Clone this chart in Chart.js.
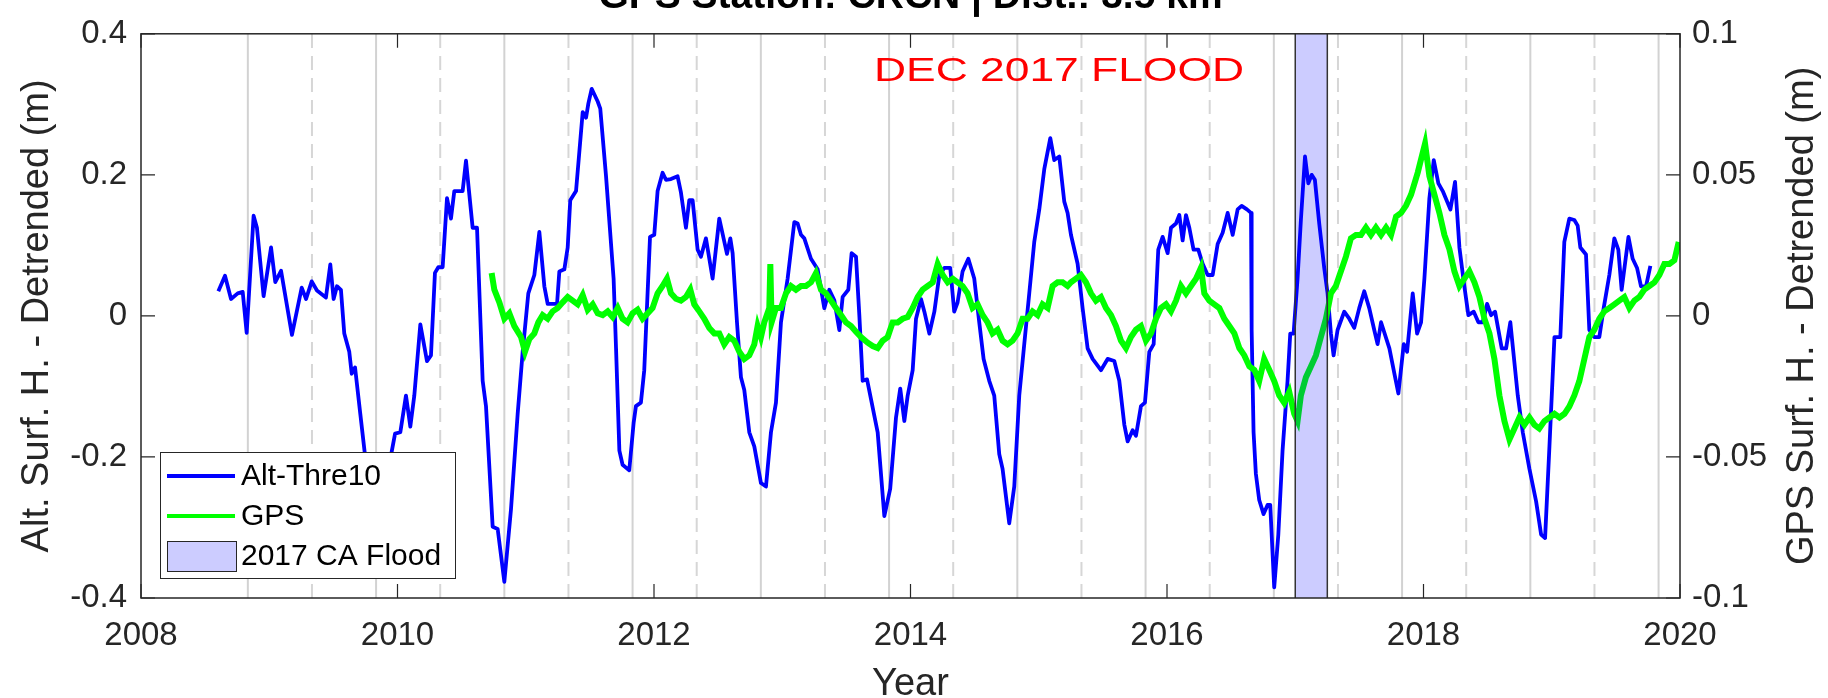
<!DOCTYPE html>
<html>
<head>
<meta charset="utf-8">
<script src="https://cdn.jsdelivr.net/npm/chart.js@4.4.0/dist/chart.umd.js"></script>
<style>
    html, body { margin: 0; padding: 0; background: #fff; }
</style>
</head>
<body>
<canvas id="gps-chart" width="1828" height="698"></canvas>
<script>
// Altimetry surface height (Alt-Thre10), [decimal year, detrended m]
const altSeries = [
    [2008.603, 0.035], [2008.655, 0.057], [2008.702, 0.024], [2008.754, 0.032], [2008.793, 0.034],
    [2008.824, -0.024], [2008.878, 0.142], [2008.904, 0.125], [2008.956, 0.028], [2009.014, 0.097],
    [2009.047, 0.048], [2009.092, 0.064], [2009.177, -0.027], [2009.253, 0.040], [2009.287, 0.024],
    [2009.331, 0.049], [2009.372, 0.036], [2009.442, 0.026], [2009.476, 0.073], [2009.502, 0.024],
    [2009.528, 0.042], [2009.559, 0.037], [2009.585, -0.025], [2009.624, -0.051], [2009.643, -0.082],
    [2009.669, -0.073], [2009.710, -0.139], [2009.747, -0.198], [2009.806, -0.263], [2009.871, -0.237],
    [2009.949, -0.198], [2009.981, -0.167], [2010.022, -0.165], [2010.066, -0.113], [2010.100, -0.157],
    [2010.131, -0.113], [2010.178, -0.012], [2010.230, -0.064], [2010.261, -0.056], [2010.292, 0.061],
    [2010.318, 0.069], [2010.352, 0.069], [2010.386, 0.167], [2010.417, 0.138], [2010.443, 0.177],
    [2010.469, 0.177], [2010.508, 0.177], [2010.534, 0.220], [2010.586, 0.125], [2010.620, 0.125],
    [2010.664, -0.092], [2010.690, -0.128], [2010.742, -0.299], [2010.781, -0.302], [2010.833, -0.377],
    [2010.885, -0.274], [2010.937, -0.139], [2010.976, -0.051], [2011.020, 0.032], [2011.067, 0.058],
    [2011.106, 0.119], [2011.145, 0.042], [2011.171, 0.017], [2011.244, 0.017], [2011.262, 0.063],
    [2011.301, 0.066], [2011.327, 0.097], [2011.347, 0.164], [2011.392, 0.177], [2011.444, 0.289],
    [2011.470, 0.281], [2011.488, 0.301], [2011.514, 0.322], [2011.561, 0.304], [2011.581, 0.294],
    [2011.626, 0.198], [2011.685, 0.053], [2011.704, -0.046], [2011.730, -0.191], [2011.755, -0.211],
    [2011.807, -0.219], [2011.841, -0.152], [2011.859, -0.128], [2011.898, -0.123], [2011.924, -0.077],
    [2011.969, 0.112], [2012.002, 0.115], [2012.028, 0.177], [2012.067, 0.203], [2012.093, 0.193],
    [2012.132, 0.194], [2012.184, 0.198], [2012.210, 0.175], [2012.249, 0.125], [2012.275, 0.164],
    [2012.301, 0.164], [2012.340, 0.094], [2012.366, 0.084], [2012.405, 0.110], [2012.457, 0.053],
    [2012.509, 0.138], [2012.569, 0.088], [2012.595, 0.110], [2012.613, 0.089], [2012.647, -0.009],
    [2012.678, -0.087], [2012.704, -0.105], [2012.743, -0.165], [2012.782, -0.185], [2012.834, -0.237],
    [2012.873, -0.242], [2012.912, -0.165], [2012.951, -0.123], [2012.990, -0.009], [2013.042, 0.053],
    [2013.094, 0.133], [2013.120, 0.131], [2013.146, 0.115], [2013.172, 0.110], [2013.224, 0.081],
    [2013.276, 0.066], [2013.328, 0.011], [2013.367, 0.037], [2013.406, 0.022], [2013.445, -0.020],
    [2013.471, 0.027], [2013.515, 0.037], [2013.541, 0.089], [2013.575, 0.084], [2013.601, 0.001],
    [2013.627, -0.092], [2013.661, -0.090], [2013.692, -0.118], [2013.744, -0.165], [2013.796, -0.284],
    [2013.842, -0.245], [2013.887, -0.144], [2013.920, -0.103], [2013.952, -0.149], [2013.978, -0.113],
    [2014.017, -0.077], [2014.043, -0.004], [2014.082, 0.024], [2014.108, 0.006], [2014.147, -0.025],
    [2014.186, 0.006], [2014.225, 0.058], [2014.264, 0.068], [2014.310, 0.068], [2014.341, 0.006],
    [2014.367, 0.019], [2014.406, 0.063], [2014.451, 0.081], [2014.497, 0.053], [2014.536, -0.009],
    [2014.570, -0.061], [2014.614, -0.092], [2014.653, -0.113], [2014.692, -0.196], [2014.718, -0.217],
    [2014.770, -0.294], [2014.809, -0.242], [2014.848, -0.113], [2014.887, -0.040], [2014.926, 0.032],
    [2014.965, 0.105], [2015.004, 0.151], [2015.043, 0.208], [2015.090, 0.252], [2015.121, 0.221],
    [2015.160, 0.226], [2015.199, 0.162], [2015.225, 0.146], [2015.251, 0.115], [2015.303, 0.074],
    [2015.342, 0.011], [2015.381, -0.046], [2015.420, -0.061], [2015.485, -0.077], [2015.537, -0.061],
    [2015.589, -0.064], [2015.628, -0.092], [2015.667, -0.154], [2015.693, -0.178], [2015.732, -0.162],
    [2015.758, -0.170], [2015.797, -0.128], [2015.828, -0.123], [2015.862, -0.051], [2015.896, -0.040],
    [2015.932, 0.094], [2015.966, 0.112], [2016.005, 0.089], [2016.031, 0.125], [2016.070, 0.131],
    [2016.096, 0.143], [2016.122, 0.107], [2016.148, 0.143], [2016.174, 0.125], [2016.207, 0.094],
    [2016.244, 0.094], [2016.278, 0.074], [2016.317, 0.058], [2016.356, 0.058], [2016.395, 0.102],
    [2016.434, 0.118], [2016.473, 0.146], [2016.512, 0.115], [2016.551, 0.151], [2016.582, 0.156],
    [2016.623, 0.151], [2016.655, 0.146], [2016.660, -0.020], [2016.675, -0.165], [2016.693, -0.224],
    [2016.719, -0.261], [2016.753, -0.281], [2016.784, -0.268], [2016.805, -0.268], [2016.836, -0.385],
    [2016.868, -0.310], [2016.901, -0.191], [2016.940, -0.092], [2016.961, -0.025], [2016.987, -0.025],
    [2017.018, 0.053], [2017.044, 0.136], [2017.076, 0.226], [2017.102, 0.188], [2017.128, 0.200],
    [2017.153, 0.193], [2017.187, 0.131], [2017.226, 0.068], [2017.252, 0.032], [2017.278, -0.025],
    [2017.299, -0.056], [2017.330, -0.020], [2017.382, 0.006], [2017.421, -0.004], [2017.460, -0.017],
    [2017.499, 0.011], [2017.538, 0.035], [2017.577, 0.011], [2017.616, -0.020], [2017.642, -0.040],
    [2017.669, -0.009], [2017.734, -0.046], [2017.773, -0.082], [2017.804, -0.110], [2017.846, -0.040],
    [2017.872, -0.051], [2017.916, 0.032], [2017.950, -0.025], [2017.981, -0.009], [2018.007, 0.053],
    [2018.046, 0.167], [2018.080, 0.221], [2018.116, 0.188], [2018.150, 0.177], [2018.210, 0.151],
    [2018.246, 0.190], [2018.280, 0.097], [2018.314, 0.048], [2018.350, 0.001], [2018.392, 0.006],
    [2018.428, -0.009], [2018.462, -0.009], [2018.496, 0.017], [2018.527, 0.001], [2018.558, 0.006],
    [2018.610, -0.046], [2018.644, -0.046], [2018.677, -0.009], [2018.735, -0.113], [2018.774, -0.165],
    [2018.826, -0.217], [2018.878, -0.263], [2018.917, -0.310], [2018.948, -0.315], [2018.982, -0.185],
    [2019.021, -0.030], [2019.067, -0.030], [2019.098, 0.105], [2019.137, 0.138], [2019.176, 0.136],
    [2019.202, 0.128], [2019.223, 0.097], [2019.267, 0.087], [2019.293, -0.020], [2019.332, -0.030],
    [2019.371, -0.030], [2019.405, 0.011], [2019.449, 0.058], [2019.488, 0.110], [2019.519, 0.094],
    [2019.545, 0.037], [2019.598, 0.112], [2019.631, 0.081], [2019.665, 0.068], [2019.696, 0.042],
    [2019.735, 0.042], [2019.769, 0.071]
];

// GPS surface height, [decimal year, detrended m] (right axis)
const gpsSeries = [
    [2010.734, 0.0152], [2010.755, 0.0093], [2010.794, 0.0048], [2010.833, -0.0010], [2010.872, 0.0009],
    [2010.911, -0.0036], [2010.963, -0.0075], [2010.994, -0.0127], [2011.028, -0.0082], [2011.067, -0.0062],
    [2011.098, -0.0023], [2011.132, 0.0003], [2011.171, -0.0010], [2011.210, 0.0016], [2011.249, 0.0028],
    [2011.288, 0.0048], [2011.327, 0.0067], [2011.366, 0.0054], [2011.405, 0.0041], [2011.444, 0.0074],
    [2011.483, 0.0022], [2011.522, 0.0041], [2011.561, 0.0009], [2011.600, 0.0003], [2011.639, 0.0016],
    [2011.678, -0.0004], [2011.717, 0.0028], [2011.755, -0.0010], [2011.794, -0.0023], [2011.833, 0.0009],
    [2011.872, 0.0022], [2011.911, -0.0010], [2011.950, 0.0009], [2011.989, 0.0028], [2012.028, 0.0080],
    [2012.067, 0.0106], [2012.101, 0.0132], [2012.132, 0.0080], [2012.171, 0.0061], [2012.210, 0.0054],
    [2012.249, 0.0067], [2012.283, 0.0093], [2012.314, 0.0041], [2012.353, 0.0016], [2012.392, -0.0010],
    [2012.431, -0.0043], [2012.470, -0.0062], [2012.509, -0.0062], [2012.548, -0.0101], [2012.587, -0.0075],
    [2012.626, -0.0088], [2012.665, -0.0127], [2012.704, -0.0153], [2012.743, -0.0140], [2012.782, -0.0101],
    [2012.808, -0.0036], [2012.834, -0.0075], [2012.860, -0.0023], [2012.899, 0.0028], [2012.907, 0.0184],
    [2012.917, -0.0023], [2012.951, 0.0028], [2012.990, 0.0028], [2013.029, 0.0080], [2013.068, 0.0106],
    [2013.107, 0.0093], [2013.146, 0.0106], [2013.185, 0.0106], [2013.224, 0.0119], [2013.263, 0.0152],
    [2013.302, 0.0093], [2013.341, 0.0080], [2013.380, 0.0054], [2013.419, 0.0028], [2013.458, 0.0003],
    [2013.497, -0.0023], [2013.536, -0.0036], [2013.575, -0.0056], [2013.614, -0.0075], [2013.666, -0.0095],
    [2013.705, -0.0107], [2013.744, -0.0114], [2013.783, -0.0088], [2013.822, -0.0075], [2013.861, -0.0023],
    [2013.900, -0.0023], [2013.939, -0.0010], [2013.978, -0.0004], [2014.017, 0.0028], [2014.056, 0.0067],
    [2014.095, 0.0093], [2014.134, 0.0106], [2014.173, 0.0119], [2014.212, 0.0184], [2014.251, 0.0145],
    [2014.290, 0.0119], [2014.329, 0.0132], [2014.367, 0.0119], [2014.406, 0.0106], [2014.445, 0.0080],
    [2014.484, 0.0028], [2014.523, 0.0041], [2014.562, 0.0003], [2014.601, -0.0023], [2014.640, -0.0062],
    [2014.679, -0.0049], [2014.718, -0.0088], [2014.757, -0.0101], [2014.796, -0.0088], [2014.835, -0.0062],
    [2014.874, -0.0010], [2014.913, -0.0010], [2014.952, 0.0016], [2014.991, 0.0003], [2015.030, 0.0041],
    [2015.069, 0.0028], [2015.108, 0.0106], [2015.147, 0.0119], [2015.186, 0.0119], [2015.225, 0.0106],
    [2015.251, 0.0119], [2015.290, 0.0132], [2015.329, 0.0145], [2015.368, 0.0119], [2015.407, 0.0080],
    [2015.446, 0.0054], [2015.485, 0.0067], [2015.524, 0.0028], [2015.563, 0.0003], [2015.602, -0.0036],
    [2015.641, -0.0088], [2015.680, -0.0114], [2015.719, -0.0075], [2015.758, -0.0049], [2015.797, -0.0036],
    [2015.836, -0.0088], [2015.875, -0.0062], [2015.914, -0.0010], [2015.953, 0.0028], [2015.992, 0.0041],
    [2016.031, 0.0016], [2016.070, 0.0054], [2016.109, 0.0106], [2016.148, 0.0080], [2016.187, 0.0106],
    [2016.226, 0.0132], [2016.265, 0.0171], [2016.291, 0.0080], [2016.330, 0.0054], [2016.369, 0.0041],
    [2016.408, 0.0028], [2016.447, -0.0010], [2016.486, -0.0036], [2016.525, -0.0062], [2016.564, -0.0114],
    [2016.603, -0.0140], [2016.642, -0.0179], [2016.681, -0.0192], [2016.719, -0.0231], [2016.758, -0.0153],
    [2016.798, -0.0192], [2016.836, -0.0231], [2016.875, -0.0282], [2016.914, -0.0308], [2016.953, -0.0269],
    [2016.992, -0.0347], [2017.018, -0.0373], [2017.044, -0.0282], [2017.083, -0.0218], [2017.122, -0.0179],
    [2017.161, -0.0140], [2017.200, -0.0075], [2017.239, -0.0010], [2017.278, 0.0080], [2017.317, 0.0106],
    [2017.356, 0.0158], [2017.395, 0.0210], [2017.434, 0.0275], [2017.473, 0.0287], [2017.512, 0.0287],
    [2017.551, 0.0313], [2017.590, 0.0287], [2017.629, 0.0313], [2017.669, 0.0287], [2017.708, 0.0313],
    [2017.747, 0.0287], [2017.786, 0.0352], [2017.825, 0.0365], [2017.864, 0.0391], [2017.903, 0.0430],
    [2017.955, 0.0508], [2018.012, 0.0611], [2018.046, 0.0495], [2018.085, 0.0430], [2018.124, 0.0365],
    [2018.163, 0.0287], [2018.202, 0.0236], [2018.241, 0.0158], [2018.280, 0.0106], [2018.319, 0.0132],
    [2018.358, 0.0158], [2018.397, 0.0119], [2018.436, 0.0067], [2018.475, -0.0010], [2018.514, -0.0062],
    [2018.553, -0.0153], [2018.592, -0.0282], [2018.631, -0.0373], [2018.670, -0.0438], [2018.709, -0.0399],
    [2018.748, -0.0360], [2018.787, -0.0386], [2018.826, -0.0360], [2018.865, -0.0386], [2018.903, -0.0399],
    [2018.943, -0.0373], [2018.982, -0.0360], [2019.021, -0.0347], [2019.060, -0.0360], [2019.099, -0.0347],
    [2019.137, -0.0321], [2019.176, -0.0282], [2019.215, -0.0231], [2019.254, -0.0153], [2019.293, -0.0075],
    [2019.332, -0.0049], [2019.371, -0.0010], [2019.410, 0.0016], [2019.449, 0.0028], [2019.488, 0.0041],
    [2019.527, 0.0054], [2019.566, 0.0067], [2019.605, 0.0028], [2019.644, 0.0054], [2019.683, 0.0067],
    [2019.722, 0.0093], [2019.761, 0.0106], [2019.800, 0.0119], [2019.839, 0.0145], [2019.878, 0.0184],
    [2019.917, 0.0184], [2019.956, 0.0197], [2019.990, 0.0262]
];

// Season markers (decimal year): solid = 1 Nov, dashed = 1 May
const novMarkers = [2008.833, 2009.833, 2010.833, 2011.833, 2012.833, 2013.833,
    2014.833, 2015.833, 2016.833, 2017.833, 2018.833, 2019.833];
const mayMarkers = [2009.333, 2010.333, 2011.333, 2012.333, 2013.333, 2014.333,
    2015.333, 2016.333, 2017.333, 2018.333, 2019.333];

// 2017 CA flood window
const floodPeriod = [2017.0, 2017.25];

// Axis ticks
const yearTicks = [2008, 2010, 2012, 2014, 2016, 2018, 2020];
const altTicks = [-0.4, -0.2, 0, 0.2, 0.4];
const altTickLabels = ['-0.4', '-0.2', '0', '0.2', '0.4'];
const gpsTicks = [-0.1, -0.05, 0, 0.05, 0.1];
const gpsTickLabels = ['-0.1', '-0.05', '0', '0.05', '0.1'];

const FONT = "'Liberation Sans', Arial, Helvetica, sans-serif";
const AXIS_COLOR = '#262626';

function toPoints(series) {
    return series.map(p => ({ x: p[0], y: p[1] }));
}

// vertical marker lines spanning the left axis range, separated by gaps
function markerPoints(years) {
    const lo = altTicks[0];
    const hi = altTicks[altTicks.length - 1];
    const pts = [];
    years.forEach(yr => {
        pts.push({ x: yr, y: lo }, { x: yr, y: hi }, { x: yr, y: null });
    });
    return pts;
}

// Flood band, axes box, inward ticks
const framePlugin = {
    id: 'matlabFrame',
    afterDatasetsDraw(chart) {
        const ctx = chart.ctx;
        const area = chart.chartArea;
        const xs = chart.scales.x;
        const yl = chart.scales.y;
        const yr = chart.scales.y2;

        ctx.save();
        // flood shading on top of the lines
        const fx0 = xs.getPixelForValue(floodPeriod[0]);
        const fx1 = xs.getPixelForValue(floodPeriod[1]);
        ctx.fillStyle = 'rgba(0, 0, 255, 0.2)';
        ctx.fillRect(fx0, area.top, fx1 - fx0, area.bottom - area.top);
        ctx.strokeStyle = '#333333';
        ctx.lineWidth = 1.5;
        ctx.beginPath();
        ctx.moveTo(fx0, area.top); ctx.lineTo(fx0, area.bottom);
        ctx.moveTo(fx1, area.top); ctx.lineTo(fx1, area.bottom);
        ctx.stroke();

        // box
        ctx.strokeStyle = AXIS_COLOR;
        ctx.lineWidth = 1.5;
        ctx.strokeRect(area.left, area.top, area.right - area.left, area.bottom - area.top);

        // inward ticks
        const len = 14;
        ctx.lineWidth = 1.2;
        ctx.beginPath();
        yearTicks.forEach(v => {
            const px = xs.getPixelForValue(v);
            ctx.moveTo(px, area.bottom); ctx.lineTo(px, area.bottom - len);
            ctx.moveTo(px, area.top); ctx.lineTo(px, area.top + len);
        });
        altTicks.forEach(v => {
            const py = yl.getPixelForValue(v);
            ctx.moveTo(area.left, py); ctx.lineTo(area.left + len, py);
        });
        gpsTicks.forEach(v => {
            const py = yr.getPixelForValue(v);
            ctx.moveTo(area.right, py); ctx.lineTo(area.right - len, py);
        });
        ctx.stroke();
        ctx.restore();
    },
    afterDraw(chart) {
        const ctx = chart.ctx;
        const area = chart.chartArea;
        ctx.save();

        // title, cropped at the top of the figure
        ctx.fillStyle = '#000';
        ctx.font = 'bold 39px ' + FONT;
        ctx.textAlign = 'center';
        ctx.textBaseline = 'alphabetic';
        ctx.fillText('GPS Station: CRCN | Dist.: 3.5 km', (area.left + area.right) / 2, 8);

        // right axis title, reading bottom to top
        ctx.save();
        ctx.fillStyle = AXIS_COLOR;
        ctx.font = '38px ' + FONT;
        ctx.textAlign = 'center';
        ctx.textBaseline = 'middle';
        ctx.translate(1803, (area.top + area.bottom) / 2);
        ctx.rotate(-Math.PI / 2);
        ctx.fillText('GPS Surf. H. - Detrended (m)', 0, 0);
        ctx.restore();

        // red annotation
        ctx.fillStyle = '#ff0000';
        ctx.font = '34px ' + FONT;
        ctx.textAlign = 'left';
        ctx.textBaseline = 'middle';
        const note = 'DEC 2017 FLOOD';
        const w = ctx.measureText(note).width;
        ctx.save();
        ctx.translate(874, 72);
        ctx.scale(370 / w, 1);
        ctx.fillText(note, 0, 0);
        ctx.restore();

        // legend box
        ctx.fillStyle = '#fff';
        ctx.fillRect(160, 452, 295, 126);
        ctx.strokeStyle = AXIS_COLOR;
        ctx.lineWidth = 1;
        ctx.strokeRect(160.5, 452.5, 295, 126);

        ctx.lineWidth = 4;
        ctx.strokeStyle = '#0000ff';
        ctx.beginPath(); ctx.moveTo(167, 476); ctx.lineTo(235, 476); ctx.stroke();
        ctx.strokeStyle = '#00ff00';
        ctx.beginPath(); ctx.moveTo(167, 516); ctx.lineTo(235, 516); ctx.stroke();
        ctx.fillStyle = '#ccccff';
        ctx.fillRect(167, 541, 69, 30);
        ctx.strokeStyle = AXIS_COLOR;
        ctx.lineWidth = 1;
        ctx.strokeRect(167.5, 541.5, 69, 30);

        ctx.fillStyle = '#000';
        ctx.font = '30px ' + FONT;
        ctx.textAlign = 'left';
        ctx.textBaseline = 'middle';
        ctx.fillText('Alt-Thre10', 241, 477);
        ctx.fillText('GPS', 241, 517);
        ctx.fillText('2017 CA Flood', 241, 557);
        ctx.restore();
    }
};

const ctx = document.getElementById('gps-chart');

new Chart(ctx.getContext('2d'), {
    type: 'line',
    data: {
        datasets: [
            {
                label: 'Alt-Thre10',
                data: toPoints(altSeries),
                yAxisID: 'y',
                borderColor: '#0000ff',
                borderWidth: 3.8,
                borderJoinStyle: 'round',
                pointRadius: 0,
                tension: 0,
                order: 1
            },
            {
                label: 'GPS',
                data: toPoints(gpsSeries),
                yAxisID: 'y2',
                borderColor: '#00ff00',
                borderWidth: 6,
                borderJoinStyle: 'miter',
                pointRadius: 0,
                tension: 0,
                order: 0
            },
            {
                label: 'Nov',
                data: markerPoints(novMarkers),
                yAxisID: 'y',
                borderColor: '#d2d2d2',
                borderWidth: 2,
                pointRadius: 0,
                spanGaps: false,
                order: 3
            },
            {
                label: 'May',
                data: markerPoints(mayMarkers),
                yAxisID: 'y',
                borderColor: '#d6d6d6',
                borderWidth: 2,
                borderDash: [14, 8],
                pointRadius: 0,
                spanGaps: false,
                order: 3
            }
        ]
    },
    options: {
        responsive: false,
        animation: false,
        devicePixelRatio: 1,
        layout: {
            padding: { top: 19, left: 0, right: 0, bottom: 0 }
        },
        plugins: {
            legend: { display: false },
            tooltip: { enabled: false }
        },
        scales: {
            x: {
                type: 'linear',
                min: yearTicks[0],
                max: yearTicks[yearTicks.length - 1],
                afterBuildTicks: s => { s.ticks = yearTicks.map(v => ({ value: v })); },
                afterFit: s => { s.height = 100; },
                grid: { display: false, drawTicks: false },
                border: { display: false },
                ticks: {
                    font: { family: FONT, size: 33 },
                    color: AXIS_COLOR,
                    padding: 18,
                    maxRotation: 0,
                    autoSkip: false,
                    callback: v => String(v)
                },
                title: {
                    display: true,
                    text: 'Year',
                    color: AXIS_COLOR,
                    font: { family: FONT, size: 38, lineHeight: 0.6 },
                    padding: { top: 0, bottom: 2 }
                }
            },
            y: {
                position: 'left',
                min: altTicks[0],
                max: altTicks[altTicks.length - 1],
                afterBuildTicks: s => { s.ticks = altTicks.map(v => ({ value: v })); },
                afterFit: s => { s.width = 141; },
                grid: { display: false, drawTicks: false },
                border: { display: false },
                ticks: {
                    font: { family: FONT, size: 33 },
                    color: AXIS_COLOR,
                    padding: 14,
                    callback: (v, i) => altTickLabels[i]
                },
                title: {
                    display: true,
                    text: 'Alt. Surf. H. - Detrended (m)',
                    color: AXIS_COLOR,
                    font: { family: FONT, size: 38, lineHeight: 1.2 },
                    padding: { top: 15, bottom: 0 }
                }
            },
            y2: {
                position: 'right',
                min: gpsTicks[0],
                max: gpsTicks[gpsTicks.length - 1],
                afterBuildTicks: s => { s.ticks = gpsTicks.map(v => ({ value: v })); },
                afterFit: s => { s.width = 148; },
                grid: { display: false, drawTicks: false },
                border: { display: false },
                ticks: {
                    font: { family: FONT, size: 33 },
                    color: AXIS_COLOR,
                    padding: 12,
                    callback: (v, i) => gpsTickLabels[i]
                },
                title: { display: false }
            }
        }
    },
    plugins: [framePlugin]
});
</script>
</body>
</html>
